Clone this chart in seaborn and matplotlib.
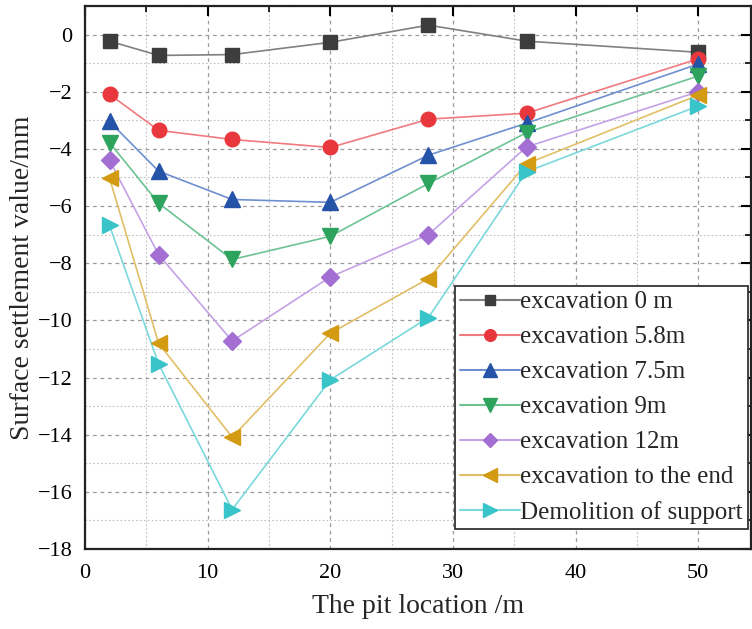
import matplotlib
matplotlib.use("Agg")
import matplotlib.pyplot as plt
import seaborn as sns
import pandas as pd
from matplotlib.ticker import MultipleLocator
from matplotlib.lines import Line2D

# ---- data ----
positions = [2, 6, 12, 20, 28, 36, 50]
exc_0 = [-0.23, -0.73, -0.70, -0.27, 0.33, -0.23, -0.62]
exc_5_8 = [-2.09, -3.35, -3.67, -3.95, -2.96, -2.75, -0.85]
exc_7_5 = [-3.04, -4.78, -5.77, -5.87, -4.22, -3.10, -1.03]
exc_9 = [-3.78, -5.90, -7.87, -7.06, -5.21, -3.43, -1.45]
exc_12 = [-4.40, -7.70, -10.72, -8.48, -7.00, -3.93, -2.00]
exc_end = [-5.02, -10.80, -14.09, -10.45, -8.54, -4.52, -2.12]
demolition = [-6.68, -11.52, -16.62, -12.08, -9.90, -4.80, -2.50]

series_names = ["excavation 0 m", "excavation 5.8m", "excavation 7.5m",
                "excavation 9m", "excavation 12m", "excavation to the end",
                "Demolition of support"]
series_values = [exc_0, exc_5_8, exc_7_5, exc_9, exc_12, exc_end, demolition]

rows = []
for name, vals in zip(series_names, series_values):
    for x, y in zip(positions, vals):
        rows.append({"x": x, "y": y, "series": name})
df = pd.DataFrame(rows)

# ---- style ----
marker_colors = ["#3d3d3d", "#e8383d", "#2553a8", "#2ea35e", "#a46fd2", "#d39b12", "#38c4c8"]
line_colors = ["#808080", "#f07a7e", "#6f8fd0", "#6cc493", "#c4a2e6", "#e2bf66", "#7ad8dc"]
markers = ["s", "o", "^", "v", "D", "<", ">"]
msizes = [9.5, 10.5, 12, 12, 9.5, 12, 12]

sns.set_style("white")
plt.rcParams["font.family"] = ["Liberation Serif", "DejaVu Serif"]
plt.rcParams["axes.unicode_minus"] = True

fig = plt.figure(figsize=(7.52, 6.29), dpi=100)
ax = fig.add_axes([85 / 752, 80 / 629, 666 / 752, 543 / 629])

handles = []
for i, name in enumerate(series_names):
    sub = df[df["series"] == name]
    sns.lineplot(data=sub, x="x", y="y", ax=ax, color=line_colors[i],
                 linewidth=1.2, marker=None, legend=False, sort=False,
                 estimator=None)
    ax.plot(sub["x"], sub["y"], linestyle="none", marker=markers[i],
            markersize=msizes[i], markerfacecolor=marker_colors[i],
            markeredgecolor=marker_colors[i], zorder=3)
    handles.append(Line2D([0], [0], color=line_colors[i], linewidth=1.5,
                          marker=markers[i], markersize=msizes[i] * 0.8,
                          markerfacecolor=marker_colors[i],
                          markeredgecolor=marker_colors[i]))

ax.set_xlim(0, 54.3)
ax.set_ylim(-18, 1)
ax.xaxis.set_major_locator(MultipleLocator(10))
ax.xaxis.set_minor_locator(MultipleLocator(5))
ax.yaxis.set_major_locator(MultipleLocator(2))
ax.yaxis.set_minor_locator(MultipleLocator(1))

ax.grid(True, which="major", color="#9a9a9a", linestyle=(0, (3, 3)), linewidth=0.9)
ax.grid(True, which="minor", color="#c0c0c0", linestyle=(0, (1.5, 2)), linewidth=0.8)
ax.set_axisbelow(True)

ax.tick_params(which="both", direction="in", top=True, right=True,
               labelsize=16, colors="black")
ax.tick_params(which="major", length=7, width=1.5)
ax.tick_params(which="minor", length=4, width=1.2)
ax.tick_params(axis="x", which="major", pad=11)
ax.tick_params(axis="y", which="major", pad=9)
for sp in ax.spines.values():
    sp.set_color("#222222")
    sp.set_linewidth(1.6)
    sp.set_visible(True)

ax.set_xlabel("The pit location /m", fontsize=20, labelpad=8)
ax.set_ylabel("Surface settlement value/mm", fontsize=20, labelpad=2)

leg = ax.legend(handles, series_names, loc="lower right",
                bbox_to_anchor=(0.995, 0.037), fontsize=18,
                frameon=True, fancybox=False, framealpha=1,
                edgecolor="#333333", borderpad=0.2, handlelength=2.4,
                handletextpad=0.0, labelspacing=0.5, borderaxespad=0)
leg.get_frame().set_linewidth(1.3)

fig.savefig("out.png", dpi=100)
